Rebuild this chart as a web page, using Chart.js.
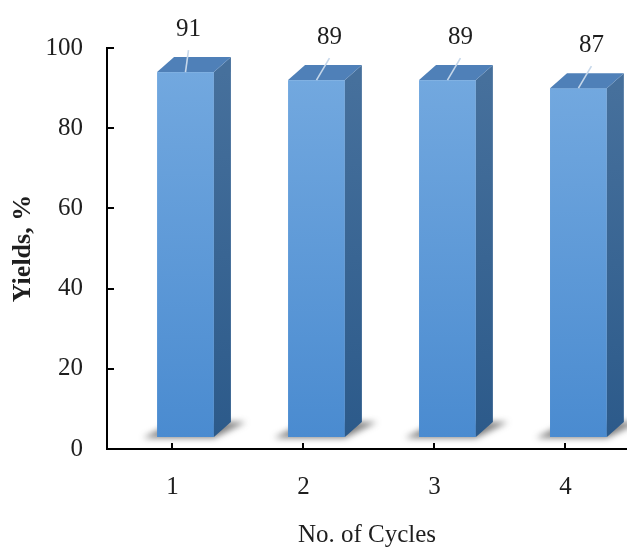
<!DOCTYPE html>
<html>
<head>
<meta charset="utf-8">
<script src="https://cdn.jsdelivr.net/npm/chart.js@4.4.1/dist/chart.umd.min.js"></script>
<style>
  html, body { margin: 0; padding: 0; background: #fff; }
  #wrap { width: 627px; height: 548px; }
</style>
</head>
<body>
<div id="wrap"><canvas id="c" width="627" height="548"></canvas></div>
<script>
// Catalyst reuse: yield per cycle
const cycles = [1, 2, 3, 4];
const yields = [91, 89, 89, 87];
const yTickValues = [0, 20, 40, 60, 80, 100];

const SERIF = '"Liberation Serif", "Times New Roman", serif';
const INK = '#1e1e1e';

// Oblique projection used for the 3D columns (pixels)
const FRONT_SHIFT = { dx: 13, dy: -12 };
const DEPTH = { dx: 17, dy: -15 };
// horizontal nudge of each value label
const LABEL_NUDGE = [-10, 0, 0, 0];

const columns3d = {
  id: 'columns3d',
  afterDatasetsDraw(chart) {
    const ctx = chart.ctx;
    const meta = chart.getDatasetMeta(0);
    meta.data.forEach((bar, i) => {
      const w = bar.width;
      const x0 = bar.x - w / 2 + FRONT_SHIFT.dx;
      const x1 = x0 + w;
      const yt = bar.y + FRONT_SHIFT.dy;
      const yb = bar.base + FRONT_SHIFT.dy;
      const { dx, dy } = DEPTH;

      // soft floor shadow
      ctx.save();
      ctx.filter = 'blur(3px)';
      ctx.fillStyle = 'rgba(60,60,60,0.65)';
      ctx.beginPath();
      ctx.moveTo(x0 - 14, yb + 1);
      ctx.lineTo(x1, yb + 1);
      ctx.lineTo(x1 + dx + 15, yb + dy);
      ctx.lineTo(x0 + dx, yb + dy);
      ctx.closePath();
      ctx.fill();
      ctx.restore();

      // front face
      const gFront = ctx.createLinearGradient(0, yt, 0, yb);
      gFront.addColorStop(0, '#72a8df');
      gFront.addColorStop(1, '#4a8bd0');
      ctx.fillStyle = gFront;
      ctx.fillRect(x0, yt, w, yb - yt);

      // side face
      const gSide = ctx.createLinearGradient(0, yt, 0, yb);
      gSide.addColorStop(0, '#46709c');
      gSide.addColorStop(1, '#2c5a8a');
      ctx.fillStyle = gSide;
      ctx.beginPath();
      ctx.moveTo(x1, yt);
      ctx.lineTo(x1 + dx, yt + dy);
      ctx.lineTo(x1 + dx, yb + dy);
      ctx.lineTo(x1, yb);
      ctx.closePath();
      ctx.fill();

      // top face
      ctx.fillStyle = '#4f80b8';
      ctx.beginPath();
      ctx.moveTo(x0, yt);
      ctx.lineTo(x1, yt);
      ctx.lineTo(x1 + dx, yt + dy);
      ctx.lineTo(x0 + dx, yt + dy);
      ctx.closePath();
      ctx.fill();

      // value label with leader line
      const cx = (x0 + x1) / 2;
      const nx = LABEL_NUDGE[i];
      ctx.save();
      ctx.strokeStyle = '#c6d7ea';
      ctx.lineWidth = 1.6;
      ctx.beginPath();
      ctx.moveTo(cx + 13 + nx, yt - 22);
      ctx.lineTo(cx, yt);
      ctx.stroke();
      ctx.fillStyle = INK;
      ctx.font = '25px ' + SERIF;
      ctx.textAlign = 'center';
      ctx.textBaseline = 'middle';
      ctx.fillText(String(yields[i]), cx + 13 + nx, yt - 43);
      ctx.restore();
    });
  },
  afterDraw(chart) {
    // tick marks pointing into the plot
    const ctx = chart.ctx;
    const xs = chart.scales.x, ys = chart.scales.y;
    const left = chart.chartArea.left, bottom = chart.chartArea.bottom;
    ctx.save();
    ctx.strokeStyle = '#000';
    ctx.lineWidth = 2;
    ys.ticks.forEach(t => {
      const py = Math.round(ys.getPixelForValue(t.value));
      ctx.beginPath();
      ctx.moveTo(left, py);
      ctx.lineTo(left + 7, py);
      ctx.stroke();
    });
    xs.ticks.forEach(t => {
      const px = Math.round(xs.getPixelForValue(t.value));
      ctx.beginPath();
      ctx.moveTo(px, bottom);
      ctx.lineTo(px, bottom - 6);
      ctx.stroke();
    });
    ctx.restore();
  }
};

new Chart(document.getElementById('c'), {
  type: 'bar',
  data: {
    datasets: [{
      data: cycles.map((c, i) => ({ x: c, y: yields[i] })),
      backgroundColor: 'rgba(0,0,0,0)',
      borderWidth: 0,
      barPercentage: 0.434,
      categoryPercentage: 1
    }]
  },
  options: {
    responsive: false,
    animation: false,
    devicePixelRatio: 1,
    layout: { padding: { top: 48, right: 0, bottom: 0, left: 0 } },
    plugins: { legend: { display: false }, tooltip: { enabled: false } },
    scales: {
      x: {
        type: 'linear',
        min: 0.5,
        max: 4.47,
        offset: false,
        afterBuildTicks: s => { s.ticks = cycles.map(v => ({ value: v })); },
        afterFit: s => { s.height = 99; },
        grid: { display: false, drawTicks: false, offset: false },
        border: { display: true, color: '#000', width: 2 },
        ticks: { font: { family: SERIF, size: 25 }, color: INK, padding: 23 },
        title: {
          display: true, text: 'No. of Cycles', color: INK, padding: 0,
          font: { family: SERIF, size: 25, lineHeight: 1 }
        }
      },
      y: {
        min: 0,
        max: 100,
        afterBuildTicks: s => { s.ticks = yTickValues.map(v => ({ value: v })); },
        afterFit: s => { s.width = 107; },
        grid: { display: false, drawTicks: false },
        border: { display: true, color: '#000', width: 2 },
        ticks: { font: { family: SERIF, size: 25 }, color: INK, padding: 24 },
        title: {
          display: true, text: 'Yields, %', color: INK, padding: { top: 8, bottom: 0 },
          font: { family: SERIF, size: 26, weight: 'bold', lineHeight: 1.2 }
        }
      }
    }
  },
  plugins: [columns3d]
});
</script>
</body>
</html>
